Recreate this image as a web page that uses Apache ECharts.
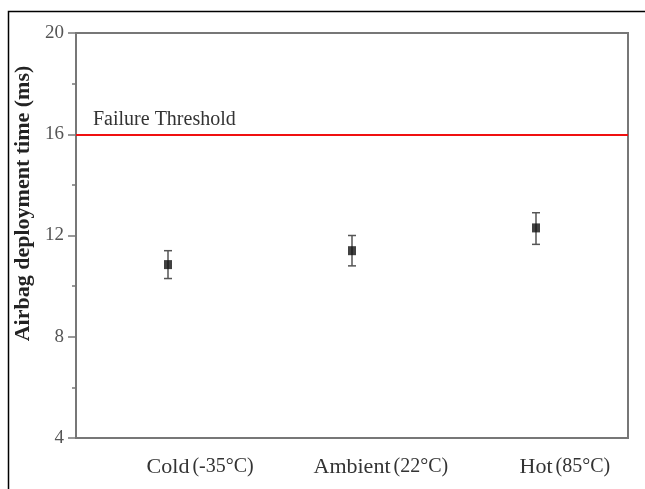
<!DOCTYPE html>
<html>
<head>
<meta charset="utf-8">
<script src="https://cdn.jsdelivr.net/npm/echarts@6/dist/echarts.min.js"></script>
<style>
  html, body { margin: 0; padding: 0; background: #fff; }
  #chart { width: 645px; height: 489px; }
</style>
</head>
<body>
<div id="chart"></div>
<script>
// data
const categories = ['Cold', 'Ambient', 'Hot']
const temps = ['(-35°C)', '(22°C)', '(85°C)']
const means = [10.85, 11.4, 12.3]
const errLow = [10.3, 10.8, 11.65]
const errHigh = [11.4, 12.0, 12.9]
const threshold = 16
const yTicks = [4, 8, 12, 16, 20]

const font = '"Liberation Serif", "DejaVu Serif", serif'
const axisGray = '#777'
const tempSize = 20
const tempGap = 3

// the word sits centred on its tick, the temperature hangs to its right:
// an empty box of the same width on the left keeps the word centred
const ctx = document.createElement('canvas').getContext('2d')
ctx.font = tempSize + 'px ' + font
const rich = {
  a: { fontFamily: font, fontSize: 22, color: '#333' },
  b: { fontFamily: font, fontSize: tempSize, color: '#333', padding: [0, 0, 0, tempGap] }
}
temps.forEach((t, i) => {
  rich['p' + i] = { width: ctx.measureText(t).width + tempGap, height: 10 }
})

const myChart = echarts.init(document.getElementById('chart'))

const errData = categories.map((c, i) => [i, errLow[i], errHigh[i]])

const option = {
  backgroundColor: '#fff',
  animation: false,
  graphic: [{
    type: 'rect',
    left: 6,
    top: 9,
    shape: { width: 660, height: 500 },
    style: { fill: 'none', stroke: '#000', lineWidth: 1.5 },
    z: 100
  }],
  grid: {
    left: 76, top: 33, right: 17, bottom: 51,
    show: true,
    borderColor: axisGray,
    borderWidth: 2
  },
  xAxis: {
    type: 'category',
    data: categories,
    boundaryGap: true,
    axisLine: { lineStyle: { color: axisGray, width: 2 } },
    axisTick: { alignWithLabel: true, length: 5, lineStyle: { color: axisGray, width: 1.5 } },
    axisLabel: {
      margin: 18,
      formatter: (v, i) => '{p' + i + '|}{a|' + v + '}{b|' + temps[i] + '}',
      rich: rich
    },
    splitLine: { show: false }
  },
  yAxis: {
    type: 'value',
    min: yTicks[0],
    max: yTicks[yTicks.length - 1],
    interval: 4,
    name: 'Airbag deployment time (ms)',
    nameLocation: 'middle',
    nameGap: 37,
    nameTextStyle: {
      fontFamily: font, fontSize: 22, fontWeight: 'bold', color: '#222',
      padding: [0, 0, 0, 64]
    },
    axisLine: { show: true, lineStyle: { color: axisGray, width: 2 } },
    axisTick: { show: true, length: 8, lineStyle: { color: axisGray, width: 1.5 } },
    minorTick: { show: true, splitNumber: 2, length: 4, lineStyle: { color: axisGray, width: 1.5 } },
    axisLabel: { fontFamily: font, fontSize: 19, color: '#555', margin: 12 },
    splitLine: { show: false }
  },
  series: [
    {
      type: 'custom',
      data: errData,
      z: 3,
      renderItem: (params, api) => {
        const x = api.value(0)
        const lo = api.coord([x, api.value(1)])
        const hi = api.coord([x, api.value(2)])
        const w = 4
        const style = { stroke: '#555', lineWidth: 1.5 }
        return {
          type: 'group',
          children: [
            { type: 'line', shape: { x1: lo[0], y1: lo[1], x2: hi[0], y2: hi[1] }, style },
            { type: 'line', shape: { x1: lo[0] - w, y1: lo[1], x2: lo[0] + w, y2: lo[1] }, style },
            { type: 'line', shape: { x1: hi[0] - w, y1: hi[1], x2: hi[0] + w, y2: hi[1] }, style }
          ]
        }
      }
    },
    {
      type: 'scatter',
      data: means,
      symbol: 'rect',
      symbolSize: [8, 9],
      itemStyle: { color: '#111' },
      z: 5,
      markLine: {
        silent: true,
        symbol: ['none', 'none'],
        lineStyle: { color: '#f01010', width: 2, type: 'solid' },
        label: {
          show: true,
          position: 'insideStartTop',
          formatter: 'Failure Threshold',
          fontFamily: font,
          fontSize: 20,
          color: '#333',
          distance: [17, 5]
        },
        data: [{ yAxis: threshold }]
      }
    }
  ]
}

myChart.setOption(option)
</script>
</body>
</html>
